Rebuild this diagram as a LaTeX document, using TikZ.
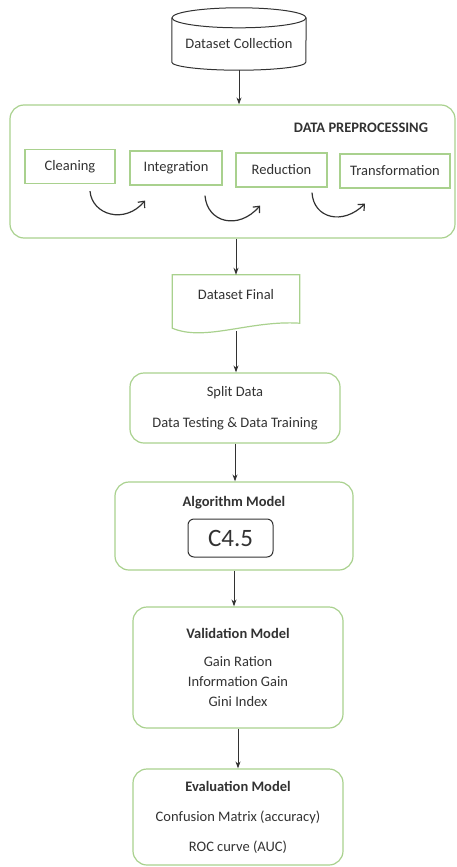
\documentclass[tikz,border=0pt]{standalone}
\usepackage{fontspec}
\setmainfont{Carlito}
\usetikzlibrary{arrows.meta,positioning,calc}
\definecolor{verde}{RGB}{169,209,142}
\definecolor{gris}{RGB}{50,50,50}

\begin{document}
\begin{tikzpicture}[x=1pt, y=-1pt, font=\fontsize{14.5}{17}\selectfont, text=gris,
		caja/.style={draw=verde, line width=1.2pt, rounded corners=14pt, align=center},
		paso/.style={draw=verde, line width=1.2pt, minimum height=34pt},
		flecha/.style={draw=gris, line width=1pt, -{Stealth[length=7pt,width=5pt]}},
		giro/.style={draw=gris, line width=1.2pt, -{Straight Barb[length=5pt,width=9pt]}}]
	\useasboundingbox (0,0) rectangle (457,867);
		% Cilindro
			\node[minimum width=134pt, minimum height=52pt] (coleccion) at (239,44) {Dataset Collection};
			\draw[gris, line width=1pt] (coleccion.north) ellipse [x radius=67pt, y radius=10pt];
			\draw[gris, line width=1pt] (coleccion.north west) -- ([yshift=8pt]coleccion.south west) arc[start angle=180, end angle=360, x radius=67pt, y radius=8pt] -- (coleccion.north east);
		% Preprocesamiento
			\node[caja, minimum width=445pt, minimum height=133pt] (preproceso) at (232.5,171.5) {};
			\node (titulo) at (361,128) {\textbf{DATA PREPROCESSING}};
			\node[paso, minimum width=90pt] (limpieza) at (70,166.5) {Cleaning};
			\node[paso, minimum width=92pt] (integracion) at (176,168) {Integration};
			\node[paso, minimum width=91pt] (reduccion) at (281.5,170) {Reduction};
			\node[paso, minimum width=110pt] (transformacion) at (395,171) {Transformation};
			\draw[giro] ([xshift=20pt,yshift=-7pt]limpieza.south) .. controls ([xshift=22pt,yshift=-31pt]limpieza.south) and ([xshift=-51pt,yshift=-39pt]integracion.south) .. ([xshift=-31pt,yshift=-15pt]integracion.south);
			\draw[giro] ([xshift=29pt,yshift=-10pt]integracion.south) .. controls ([xshift=31pt,yshift=-37pt]integracion.south) and ([xshift=-43pt,yshift=-43pt]reduccion.south) .. ([xshift=-21.5pt,yshift=-18pt]reduccion.south);
			\draw[giro] ([xshift=30.5pt,yshift=-5pt]reduccion.south) .. controls ([xshift=32pt,yshift=-31pt]reduccion.south) and ([xshift=-52pt,yshift=-37pt]transformacion.south) .. ([xshift=-30pt,yshift=-15pt]transformacion.south);
		% Dataset final
			\node[minimum width=127pt, minimum height=40pt] (final) at (236,295) {Dataset Final};
			\draw[verde, line width=1.2pt] (final.north west) -- ([yshift=-13pt]final.south west) .. controls (205,342) and (250,320) .. ([yshift=-8pt]final.south east) -- (final.north east) -- cycle;
			\coordinate (basefinal) at (236,331);
		% Modelo
			\node[caja, minimum width=210pt, minimum height=70pt] (split) at (235,408) {Split Data\\[14pt]Data Testing \& Data Training};
			\node[caja, minimum width=238pt, minimum height=88pt] (algoritmo) at (234,526) {};
			\node (tituloalg) at (234,503) {\textbf{Algorithm Model}};
			\node[draw=gris, line width=1pt, rounded corners=6pt, minimum width=85pt, minimum height=38pt, font=\fontsize{25}{30}\selectfont] (c45) at (230.5,538) {C4.5};
			\node[caja, minimum width=210pt, minimum height=121pt] (validacion) at (238,667.5) {\textbf{Validation Model}\\[11pt]Gain Ration\\[3pt]Information Gain\\[3pt]Gini Index};
			\node[caja, minimum width=210pt, minimum height=96pt] (evaluacion) at (238,817) {\textbf{Evaluation Model}\\[13pt]Confusion Matrix (accuracy)\\[13pt]ROC curve (AUC)};
		% Flechas
			\draw[flecha] (coleccion.south) -- (coleccion.south |- preproceso.north);
			\draw[flecha] (final.north |- preproceso.south) -- (final.north);
			\draw[flecha] (basefinal) -- (basefinal |- split.north);
			\draw[flecha] (split.south) -- (split.south |- algoritmo.north);
			\draw[flecha] (algoritmo.south) -- (algoritmo.south |- validacion.north);
			\draw[flecha] (validacion.south) -- (validacion.south |- evaluacion.north);
\end{tikzpicture}
\end{document}
